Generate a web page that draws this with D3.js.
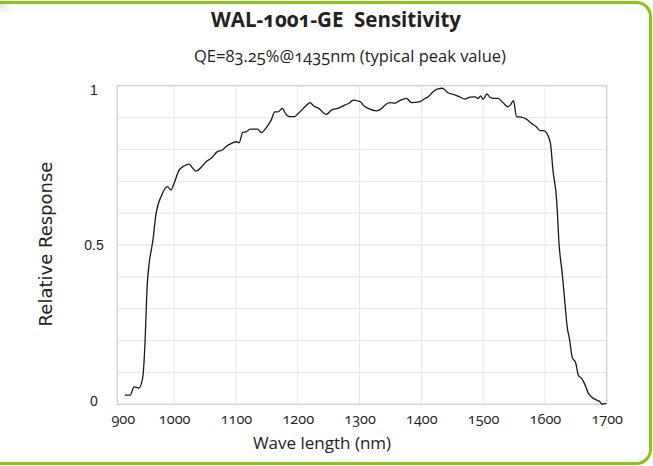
<!DOCTYPE html>
<html>
<head>
<meta charset="utf-8">
<script src="https://cdn.jsdelivr.net/npm/d3@7"></script>
<style>
  body { margin: 0; background: #fff; }
  svg { display: block; font-family: "Open Sans", "Noto Sans", sans-serif; font-variant-numeric: oldstyle-nums; }
</style>
</head>
<body>
<svg id="chart" width="653" height="466"></svg>
<script>
// wavelength (nm) / relative response
const wave = [920, 929, 935, 943, 949, 953, 956, 960, 963, 966, 970, 980, 989, 995, 1000, 1008, 1016,
  1024, 1028, 1035, 1044, 1052, 1060, 1070, 1078, 1085, 1093, 1101, 1105, 1111, 1117, 1123, 1135,
  1141, 1150, 1157, 1163, 1168, 1175, 1180, 1186, 1195, 1201, 1213, 1220, 1226, 1234, 1246, 1255,
  1265, 1276, 1283, 1290, 1298, 1303, 1306, 1314, 1328, 1336, 1341, 1349, 1357, 1365, 1376, 1384,
  1398, 1406, 1411, 1419, 1427, 1434, 1443, 1454, 1462, 1470, 1479, 1487, 1492, 1496, 1500, 1506,
  1511, 1517, 1524, 1532, 1540, 1544, 1549, 1550, 1554, 1562, 1570, 1578, 1586, 1592, 1598, 1603,
  1609, 1613, 1619, 1623, 1628, 1632, 1636, 1640, 1644, 1650, 1654, 1659, 1665, 1670, 1676, 1684,
  1689, 1692, 1699];
const response = [0.029, 0.029, 0.055, 0.051, 0.082, 0.2, 0.36, 0.45, 0.484, 0.52, 0.589, 0.657,
  0.683, 0.673, 0.694, 0.735, 0.748, 0.754, 0.746, 0.732, 0.744, 0.762, 0.772, 0.793, 0.798, 0.811,
  0.819, 0.824, 0.821, 0.853, 0.856, 0.864, 0.864, 0.853, 0.871, 0.892, 0.918, 0.918, 0.929, 0.913,
  0.903, 0.903, 0.913, 0.936, 0.947, 0.936, 0.929, 0.91, 0.924, 0.929, 0.939, 0.945, 0.955, 0.952,
  0.947, 0.939, 0.929, 0.921, 0.929, 0.939, 0.947, 0.945, 0.953, 0.96, 0.947, 0.95, 0.96, 0.965,
  0.981, 0.99, 0.992, 0.978, 0.971, 0.965, 0.958, 0.964, 0.965, 0.96, 0.968, 0.957, 0.974, 0.964,
  0.96, 0.96, 0.947, 0.934, 0.939, 0.953, 0.947, 0.903, 0.901, 0.895, 0.882, 0.871, 0.859, 0.859,
  0.851, 0.819, 0.735, 0.641, 0.5, 0.411, 0.327, 0.244, 0.202, 0.149, 0.129, 0.092, 0.082, 0.061,
  0.036, 0.022, 0.013, 0.008, 0.001, 0.003];

const xTicks = [900, 1000, 1100, 1200, 1300, 1400, 1500, 1600, 1700];
const yTicks = [0, 0.5, 1];
const yGrid = [0.1, 0.2, 0.3, 0.4, 0.5, 0.6, 0.7, 0.8, 0.9];

const titleText = 'WAL-1001-GE\u00a0\u00a0Sensitivity';
const subtitleText = 'QE=83.25%@1435nm (typical peak value)';
const xLabel = 'Wave length (nm)';
const yLabel = 'Relative Response';

const svg = d3.select('#chart');
const width = 653;
const height = 466;
const margin = { top: 85.7, right: 46.3, bottom: 61.7, left: 117.3 };

// card frame, left side runs off the picture
const defs = svg.append('defs');
const grad = defs.append('radialGradient').attr('id', 'blob');
grad.append('stop').attr('offset', '0%').attr('stop-color', '#d8d8d8');
grad.append('stop').attr('offset', '100%').attr('stop-color', '#ffffff').attr('stop-opacity', 0);
svg.append('circle').attr('cx', 2).attr('cy', 2).attr('r', 16).attr('fill', 'url(#blob)');

svg.append('rect')
  .attr('x', -14).attr('y', 2.5)
  .attr('width', width - 2.5 + 14).attr('height', height - 5)
  .attr('rx', 14).attr('ry', 14)
  .attr('fill', 'none')
  .attr('stroke', '#8cc21a')
  .attr('stroke-width', 3);

const x = d3.scaleLinear().domain([908, 1700]).range([margin.left, width - margin.right]);
const y = d3.scaleLinear().domain([0, 1]).range([height - margin.bottom, margin.top]);

const plot = svg.append('g');

// grid
plot.append('g')
  .selectAll('line')
  .data(xTicks.filter(d => d > 908 && d < 1700))
  .join('line')
  .attr('x1', d => x(d)).attr('x2', d => x(d))
  .attr('y1', y(0)).attr('y2', y(1))
  .attr('stroke', '#e4e7ef').attr('stroke-width', 1);

plot.append('g')
  .selectAll('line')
  .data(yGrid)
  .join('line')
  .attr('x1', x(908)).attr('x2', x(1700))
  .attr('y1', d => y(d)).attr('y2', d => y(d))
  .attr('stroke', '#e8eaef').attr('stroke-width', 1.3);

plot.append('rect')
  .attr('x', x(908)).attr('y', y(1))
  .attr('width', x(1700) - x(908)).attr('height', y(0) - y(1))
  .attr('fill', 'none')
  .attr('stroke', '#cfcfcf')
  .attr('stroke-width', 1.3);

// x axis labels
const xAxis = svg.append('g')
  .attr('transform', `translate(0,${y(0)})`)
  .call(d3.axisBottom(x).tickValues(xTicks).tickSize(0).tickPadding(9).tickFormat(d3.format('d')));
xAxis.select('.domain').remove();
xAxis.selectAll('text')
  .attr('fill', '#222')
  .attr('font-size', 14.5)
  .attr('font-family', '"Open Sans", sans-serif');
// 900 sits just left of the axis start
xAxis.selectAll('.tick').filter(d => d === 900).attr('transform', `translate(${x(908) + 6},0)`);

// y axis labels
const yAxis = svg.append('g')
  .attr('transform', `translate(${x(908)},0)`)
  .call(d3.axisLeft(y).tickValues(yTicks).tickSize(0).tickPadding(14).tickFormat(d => d === 0.5 ? '0.5' : d3.format('d')(d)));
yAxis.select('.domain').remove();
yAxis.selectAll('text')
  .attr('fill', '#222')
  .attr('font-size', 14)
  .attr('text-anchor', 'middle')
  .attr('x', 94 - x(908));
yAxis.selectAll('.tick').filter(d => d === 1).select('text').attr('dy', '0.62em');
yAxis.selectAll('.tick').filter(d => d === 0).select('text').attr('dy', '0.1em');

// curve
const pts = wave.map((w, i) => [w, response[i]]);
plot.append('path')
  .datum(pts)
  .attr('fill', 'none')
  .attr('stroke', '#1a1a1a')
  .attr('stroke-width', 1.3)
  .attr('stroke-linejoin', 'round')
  .attr('d', d3.line().x(d => x(d[0])).y(d => y(d[1])).curve(d3.curveMonotoneX));

// titles
svg.append('text')
  .attr('x', 336).attr('y', 27)
  .attr('text-anchor', 'middle')
  .attr('font-size', 20.5)
  .attr('font-weight', 'bold')
  .attr('fill', '#222')
  .text(titleText);

svg.append('text')
  .attr('x', 350).attr('y', 62)
  .attr('text-anchor', 'middle')
  .attr('font-size', 16.5)
  .attr('fill', '#222')
  .text(subtitleText);

svg.append('text')
  .attr('x', 322).attr('y', 449)
  .attr('text-anchor', 'middle')
  .attr('font-size', 17)
  .attr('fill', '#222')
  .text(xLabel);

svg.append('text')
  .attr('transform', 'translate(52,244) rotate(-90)')
  .attr('text-anchor', 'middle')
  .attr('font-family', '"DejaVu Sans", sans-serif')
  .attr('font-size', 18)
  .attr('fill', '#222')
  .text(yLabel);
</script>
</body>
</html>
